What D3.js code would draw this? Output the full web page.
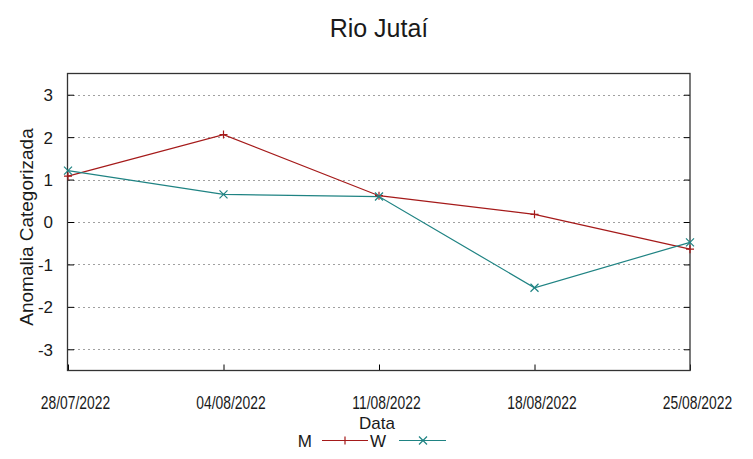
<!DOCTYPE html>
<html><head><meta charset="utf-8">
<script src="https://cdn.jsdelivr.net/npm/d3@7"></script>
<style>body{margin:0;background:#fff}svg{display:block}text{font-family:"Liberation Sans",Arial,sans-serif;fill:#1a1a1a}</style>
</head><body>
<script>
const dates = ["28/07/2022","04/08/2022","11/08/2022","18/08/2022","25/08/2022"];
const seriesM = [1.08, 2.06, 0.62, 0.18, -0.64];
const seriesW = [1.21, 0.65, 0.60, -1.55, -0.48];
const yTicks = [-3,-2,-1,0,1,2,3];
const title = "Rio Jutaí";
const xLabel = "Data";
const yLabel = "Anomalia Categorizada";
const seriesNames = ["M","W"];

const W = 753, H = 459;
const m = {left:68, right:63, top:73.5, bottom:88.5};
const svg = d3.select("body").append("svg").attr("width",W).attr("height",H);
const x = d3.scalePoint().domain(dates).range([m.left, W-m.right]);
const y = d3.scaleLinear().domain([-3.5,3.5]).range([H-m.bottom, m.top]);
const colors = ["#a51a1a","#1f8383"];

// grid
svg.append("g").selectAll("line").data(yTicks).join("line")
  .attr("x1",m.left).attr("x2",W-m.right)
  .attr("y1",d=>Math.round(y(d))+0.5).attr("y2",d=>Math.round(y(d))+0.5)
  .attr("stroke","#a0a0a0").attr("stroke-dasharray","2,3").attr("stroke-width",1);

// left axis
const ya = d3.axisLeft(y).tickValues(yTicks).tickSize(-6).tickFormat(d => String(d));
const gy = svg.append("g").attr("transform",`translate(${m.left},0)`).call(ya);
gy.select(".domain").remove();
gy.selectAll("text").style("font-size","17px").attr("dy","0.35em").attr("x",-15);
gy.selectAll("line").attr("stroke","#000");
// right axis ticks
const gr = svg.append("g").attr("transform",`translate(${W-m.right},0)`).call(d3.axisRight(y).tickValues(yTicks).tickSize(-6).tickFormat(""));
gr.select(".domain").remove();
gr.selectAll("line").attr("stroke","#000");

// x axis ticks
const gx = svg.append("g").attr("transform",`translate(0,${H-m.bottom})`)
  .call(d3.axisBottom(x).tickSize(-6));
gx.select(".domain").remove();
gx.selectAll("line").attr("stroke","#000");
gx.selectAll("text").style("font-size","18px").attr("dy","0").attr("y",0).attr("x",0)
  .attr("transform","translate(7,38) scale(0.77,1)");

// border
svg.append("rect").attr("x",m.left-0.5).attr("y",m.top).attr("width",W-m.right-m.left+0.5).attr("height",H-m.bottom-m.top)
  .attr("fill","none").attr("stroke","#333").attr("stroke-width",1.3);

// lines
const line = d3.line().x((d,i)=>x(dates[i])).y(d=>y(d));
[seriesM, seriesW].forEach((s,k)=>{
  svg.append("path").datum(s).attr("d",line).attr("fill","none").attr("stroke",colors[k]).attr("stroke-width",1.2);
});
function plus(g,cx,cy,c){g.append("path").attr("d",`M${cx-4},${cy}H${cx+4}M${cx},${cy-4}V${cy+4}`).attr("stroke",c).attr("stroke-width",1.2).attr("fill","none");}
function cross(g,cx,cy,c){g.append("path").attr("d",`M${cx-4},${cy-4}L${cx+4},${cy+4}M${cx-4},${cy+4}L${cx+4},${cy-4}`).attr("stroke",c).attr("stroke-width",1.2).attr("fill","none");}
seriesM.forEach((v,i)=>plus(svg,x(dates[i]),y(v),colors[0]));
seriesW.forEach((v,i)=>cross(svg,x(dates[i]),y(v),colors[1]));

// title
svg.append("text").attr("x",379).attr("y",37).attr("text-anchor","middle").style("font-size","25px").text(title);
// axis labels
svg.append("text").attr("x",377).attr("y",429).attr("text-anchor","middle").style("font-size","17px").text(xLabel);
svg.append("text").attr("transform","translate(33,227) rotate(-90)").attr("text-anchor","middle").style("font-size","19px").text(yLabel);

// legend
const lg = svg.append("g");
lg.append("text").attr("x",312).attr("y",447).attr("text-anchor","end").style("font-size","17px").text(seriesNames[0]);
lg.append("line").attr("x1",322).attr("x2",368).attr("y1",440.5).attr("y2",440.5).attr("stroke",colors[0]).attr("stroke-width",1.2);
plus(lg,345,440.5,colors[0]);
lg.append("text").attr("x",386).attr("y",447).attr("text-anchor","end").style("font-size","17px").text(seriesNames[1]);
lg.append("line").attr("x1",399).attr("x2",446).attr("y1",440.5).attr("y2",440.5).attr("stroke",colors[1]).attr("stroke-width",1.2);
cross(lg,423,440.5,colors[1]);
</script>
</body></html>
